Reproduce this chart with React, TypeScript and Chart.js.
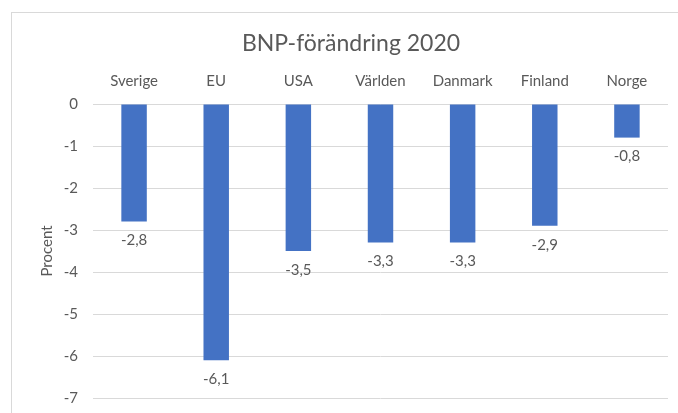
import React, { useEffect, useRef } from "react";
import { Chart, registerables } from "chart.js";

Chart.register(...registerables);

const chartTitle = "BNP-förändring 2020";
const yAxisTitle = "Procent";
const categories = ["Sverige", "EU", "USA", "Världen", "Danmark", "Finland", "Norge"];
const values = [-2.8, -6.1, -3.5, -3.3, -3.3, -2.9, -0.8];
const yMin = -7;
const yMax = 0;

const FONT = "Lato, 'Open Sans', sans-serif";
const TEXT = "#595959";
const GRID = "#d9d9d9";
const BAR = "#4472C4";

const formatValue = (v: number) => v.toFixed(1).replace(".", ",");

const frameAndLabels = {
  id: "frameAndLabels",
  beforeDraw(chart: any) {
    const ctx = chart.ctx;
    ctx.save();
    ctx.strokeStyle = GRID;
    ctx.lineWidth = 1;
    ctx.strokeRect(11.5, 12.5, 800, 600);
    ctx.restore();
  },
  afterDatasetsDraw(chart: any) {
    const ctx = chart.ctx;
    const meta = chart.getDatasetMeta(0);
    ctx.save();
    ctx.fillStyle = TEXT;
    ctx.font = `15px ${FONT}`;
    ctx.textAlign = "center";
    ctx.textBaseline = "middle";
    meta.data.forEach((el: any, i: number) => {
      ctx.fillText(formatValue(values[i]), el.x, el.y + 19);
    });
    ctx.restore();
  },
};

export default function App() {
  const ref = useRef<HTMLCanvasElement | null>(null);
  useEffect(() => {
    if (!ref.current) return;
    const chart = new Chart(ref.current, {
      type: "bar",
      data: {
        labels: categories,
        datasets: [
          {
            data: values,
            backgroundColor: BAR,
            borderWidth: 0,
            barPercentage: 0.31,
            categoryPercentage: 1,
          },
        ],
      },
      options: {
        responsive: false,
        animation: false,
        layout: { padding: { top: 0, right: 10, bottom: 15, left: 34 } },
        plugins: {
          legend: { display: false },
          tooltip: { enabled: false },
          title: {
            display: true,
            text: chartTitle,
            color: TEXT,
            font: { family: FONT, size: 23, weight: "normal" },
            padding: { top: 30, bottom: 10 },
          },
        },
        scales: {
          x: {
            position: "top",
            grid: { display: false, drawTicks: false },
            border: { display: false },
            ticks: {
              color: TEXT,
              font: { family: FONT, size: 15 },
              padding: 14,
              maxRotation: 0,
            },
            afterFit: (s: any) => {
              s.height = 104 - 30 - 10 - 27.6;
            },
          },
          y: {
            min: yMin,
            max: yMax,
            grid: { color: GRID, lineWidth: 1, drawTicks: false },
            border: { display: false },
            ticks: {
              stepSize: 1,
              color: TEXT,
              font: { family: FONT, size: 15 },
              padding: 15,
            },
            title: {
              display: true,
              text: yAxisTitle,
              color: TEXT,
              font: { family: FONT, size: 15 },
              padding: { top: 4, bottom: 0 },
            },
            afterFit: (s: any) => {
              s.width = 93 - 34;
              s.paddingTop = 0;
              s.paddingBottom = 0;
            },
          },
        },
      },
      plugins: [frameAndLabels],
    });
    return () => chart.destroy();
  }, []);
  return (
    <div style={{ position: "fixed", left: 0, top: 0, width: 678, height: 413, background: "#fff" }}>
      <canvas ref={ref} width={678} height={413} style={{ display: "block" }} />
    </div>
  );
}
